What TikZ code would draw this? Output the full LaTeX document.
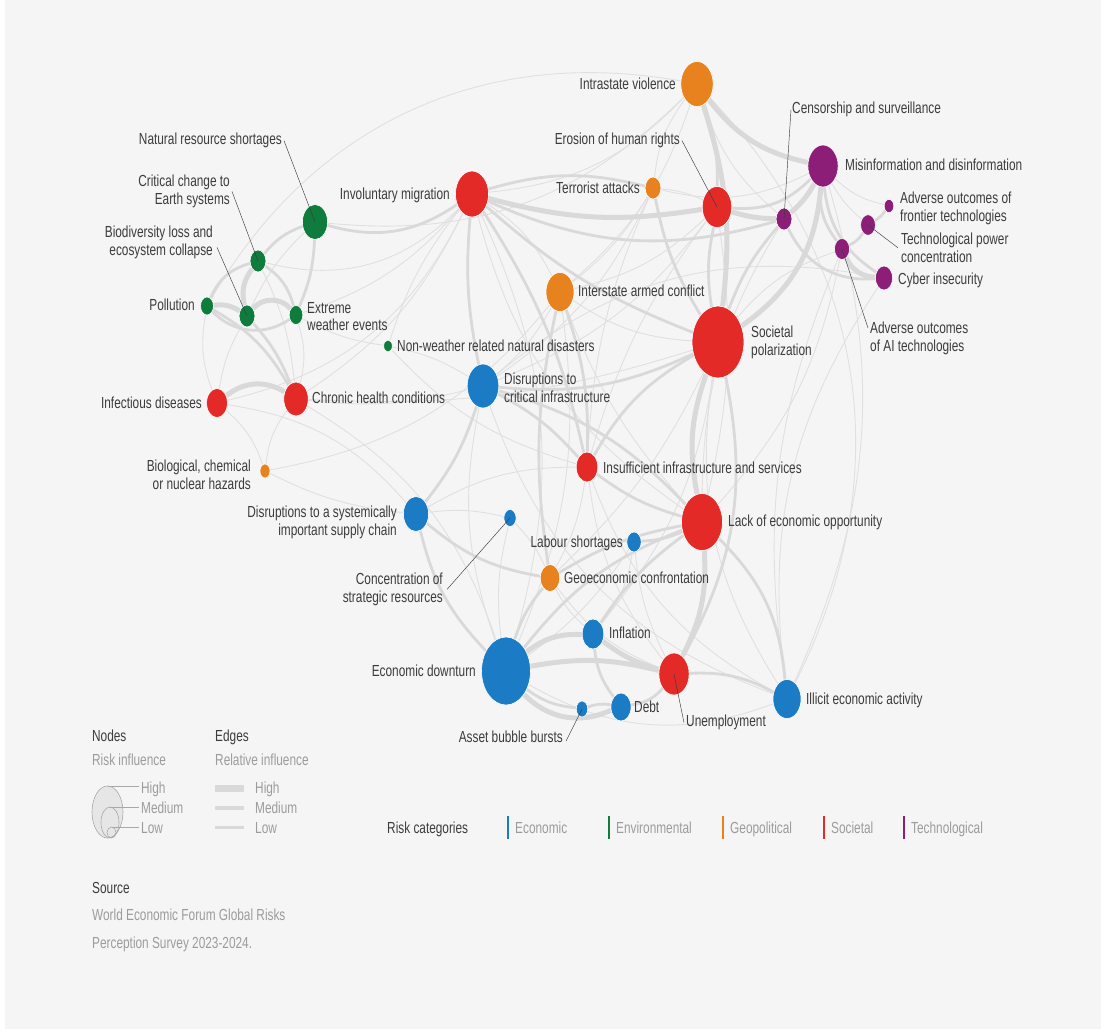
\documentclass[tikz,border=0pt]{standalone}
\usepackage{fontspec}
\setmainfont{Liberation Sans}[FakeStretch=0.74]
\usetikzlibrary{shapes.geometric}
\definecolor{ink}{HTML}{3C3C3C}
\definecolor{muted}{HTML}{9C9C9C}
\definecolor{paper}{HTML}{F5F5F5}
\definecolor{linkgray}{HTML}{D9D9D9}
\definecolor{linkfaint}{HTML}{E0E0E0}
\definecolor{keyfill}{HTML}{E6E6E6}
\definecolor{keyline}{HTML}{A8A8A8}
\definecolor{econ}{HTML}{1B7BC5}
\definecolor{envi}{HTML}{0F7B3C}
\definecolor{geop}{HTML}{E8821F}
\definecolor{soci}{HTML}{E42A27}
\definecolor{tech}{HTML}{8C1E77}
\newcommand{\figfontsize}{\fontsize{16}{17.5}\selectfont}
\pgfdeclarelayer{paperlayer}
\pgfdeclarelayer{linklayer}
\pgfsetlayers{paperlayer,linklayer,main}
\tikzset{
  every picture/.style = {font=\figfontsize, line join=round},
  risk/.style 2 args   = {ellipse, draw=white, line width=0.6pt, fill=#1, inner sep=0pt,
                          minimum width={1.44*#2}, minimum height={2*#2}},
  tag/.style           = {text=ink, inner sep=0pt},
  note/.style          = {text=muted, inner sep=0pt},
  lead/.style          = {draw=ink, line width=0.45pt},
  linkhi/.style        = {draw=linkgray, line width=5pt},
  linkmid/.style       = {draw=linkgray, line width=2.8pt},
  linklo/.style        = {draw=linkfaint, line width=0.9pt},
}

\begin{document}
\begin{tikzpicture}[x=1pt, y=-1pt]
  \useasboundingbox (0,0) rectangle (1101,1029);
  \begin{pgfonlayer}{paperlayer}
    \fill[white] (0,0) rectangle (1101,1029);
    \fill[paper] (5,0) rectangle (1101,1029);
  \end{pgfonlayer}

  % --- risks (ellipse height = 2*ry, width squeezed like the source chart) ---
  % environmental
  \node[risk={envi}{17.5}] (nrs) at (315,222) {};
  \node[risk={envi}{11}]   (ces) at (258,261) {};
  \node[risk={envi}{11}]   (bio) at (247,316) {};
  \node[risk={envi}{9}]    (pol) at (207,306) {};
  \node[risk={envi}{9.5}]  (ext) at (296,315) {};
  \node[risk={envi}{6}]    (nwd) at (388,346) {};
  % societal
  \node[risk={soci}{14.5}] (inf)   at (217,403) {};
  \node[risk={soci}{17}]   (chr)   at (296,399) {};
  \node[risk={soci}{23}]   (mig)   at (472,194) {};
  \node[risk={soci}{20.5}] (hr)    at (717,207) {};
  \node[risk={soci}{36}]   (sp)    at (718,342) {};
  \node[risk={soci}{15}]   (iis)   at (587,467) {};
  \node[risk={soci}{28.5}] (leo)   at (702,522) {};
  \node[risk={soci}{21}]   (unemp) at (674,674) {};
  % geopolitical
  \node[risk={geop}{7}]    (bcn) at (265,471) {};
  \node[risk={geop}{22.5}] (iv)  at (697,84)  {};
  \node[risk={geop}{11}]   (ta)  at (653,188) {};
  \node[risk={geop}{19.5}] (iac) at (560,292) {};
  \node[risk={geop}{13.5}] (geo) at (550,578) {};
  % technological
  \node[risk={tech}{11}]   (cs)  at (784,219) {};
  \node[risk={tech}{21}]   (mis) at (823,166) {};
  \node[risk={tech}{6.7}]  (aof) at (889,206) {};
  \node[risk={tech}{10.3}] (tpc) at (868,225) {};
  \node[risk={tech}{10.5}] (aai) at (842,249) {};
  \node[risk={tech}{12}]   (cyb) at (884,278) {};
  % economic
  \node[risk={econ}{22}]   (dci)  at (483,386) {};
  \node[risk={econ}{17.5}] (dsc)  at (416,514) {};
  \node[risk={econ}{8.5}]  (csr)  at (510,518) {};
  \node[risk={econ}{10}]   (lab)  at (634,542) {};
  \node[risk={econ}{15}]   (infl) at (593,634) {};
  \node[risk={econ}{34}]   (ed)   at (506,671) {};
  \node[risk={econ}{8}]    (abb)  at (582,709) {};
  \node[risk={econ}{14}]   (debt) at (621,707) {};
  \node[risk={econ}{19.5}] (iea)  at (787,699) {};

  % --- links, under the risks ---
  \begin{pgfonlayer}{linklayer}
    \foreach \a/\b/\c in {nrs/bio/-10, ext/chr/15, pol/inf/-15, bio/inf/-10, ces/chr/10,
        chr/bcn/-15, inf/bcn/15, ces/mig/-30, ext/mig/-15, nrs/iv/-25, chr/ed/20,
        chr/sp/-10, inf/dsc/20, ext/nwd/-10, nwd/dci/10, nwd/iis/-15, iv/ta/-15,
        iv/mig/20, iv/cs/-15, iv/iac/15, iv/iea/35, iv/pol/-35, ta/hr/10, ta/iac/10,
        ta/mis/-20, ta/iis/-10, iac/sp/-15, iac/dci/10, iac/ed/15, iac/hr/-15,
        mig/iac/15, mig/leo/-20, mig/chr/15, mig/ed/20, mig/inf/25, sp/iea/-20,
        sp/aai/15, sp/geo/10, sp/infl/15, mis/tpc/-10, mis/aof/-15, cyb/iea/-20,
        aai/iea/-15, aai/leo/15, cyb/dci/-25, ed/csr/10, ed/lab/-10, ed/iea/-25,
        infl/geo/10, dsc/csr/10, dsc/iis/15, geo/csr/-10, geo/iis/-10, lab/infl/15,
        lab/unemp/-10, unemp/iis/15, iea/iis/20, iea/dci/25, bcn/dsc/-10, bcn/iac/-20,
        hr/leo/10, cs/leo/-15, mis/iea/20, hr/iis/-10, ta/dci/15, iac/leo/-10,
        dci/chr/10, dci/ed/-15, geo/unemp/-15, mig/nwd/-10, hr/dci/15}
      \draw[linklo] (\a) to[bend left=\c] (\b);
    \foreach \a/\b/\c in {iv/hr/10, hr/mis/-25, hr/sp/-10, mig/sp/-10, mig/ta/15,
        mig/cs/-20, mig/dci/-8, mig/iis/10, nrs/mig/-25, nrs/ces/-15, ces/ext/20,
        pol/ext/-40, pol/ces/25, pol/chr/15, bio/chr/10, nrs/ext/10, ta/sp/-10,
        iac/geo/-10, iac/iis/10, sp/cs/10, sp/iis/-15, sp/unemp/20, mis/aai/-20,
        mis/cyb/-25, aai/tpc/-15, tpc/aof/-10, cs/cyb/-35, ed/abb/-15, ed/leo/15,
        ed/dsc/15, ed/geo/10, infl/debt/-15, infl/leo/10, debt/unemp/-20, abb/debt/15,
        unemp/iea/15, leo/iea/20, iis/leo/-10, leo/lab/10, leo/geo/-10, leo/dci/-15,
        dsc/dci/-10, dsc/geo/-15, iis/dci/-10, sp/dci/15}
      \draw[linkmid] (\a) to[bend left=\c] (\b);
    \foreach \a/\b/\c in {iv/sp/12, mis/sp/25, hr/cs/-8, mis/cs/10, sp/leo/-15,
        leo/unemp/15, ed/infl/20, ed/debt/-35, ed/unemp/12, infl/unemp/-10, inf/chr/35,
        pol/bio/20, bio/ext/50, ces/bio/-25, mig/hr/-12, aai/cyb/-30, iv/mis/-20}
      \draw[linkhi] (\a) to[bend left=\c] (\b);
  \end{pgfonlayer}

  % --- risk labels ---
  \node[tag, anchor=north east] (iv-t)  at (676,78)  {Intrastate violence};
  \node[tag, anchor=north east] (hr-t)  at (680,133) {Erosion of human rights};
  \node[tag, anchor=north west] (cs-t)  at (792,102) {Censorship and surveillance};
  \node[tag, anchor=north west] (mis-t) at (845,159) {Misinformation and disinformation};
  \node[tag, anchor=north west, align=left] (aof-t) at (900,192) {Adverse outcomes of\\frontier technologies};
  \node[tag, anchor=north west, align=left] (tpc-t) at (901,233) {Technological power\\concentration};
  \node[tag, anchor=north west] (cyb-t) at (898,273) {Cyber insecurity};
  \node[tag, anchor=north west, align=left] (aai-t) at (870,322) {Adverse outcomes\\of AI technologies};
  \node[tag, anchor=north west, align=left] (sp-t)  at (751,326) {Societal\\polarization};
  \node[tag, anchor=north east] (ta-t)  at (640,182) {Terrorist attacks};
  \node[tag, anchor=north west] (iac-t) at (578,285) {Interstate armed conflict};
  \node[tag, anchor=north east] (mig-t) at (450,188) {Involuntary migration};
  \node[tag, anchor=north east] (nrs-t) at (282,133) {Natural resource shortages};
  \node[tag, anchor=north east, align=right] (ces-t) at (230,175) {Critical change to\\Earth systems};
  \node[tag, anchor=north east, align=right] (bio-t) at (213,226) {Biodiversity loss and\\ecosystem collapse};
  \node[tag, anchor=north east] (pol-t) at (195,299) {Pollution};
  \node[tag, anchor=north west, align=left] (ext-t) at (307,302) {Extreme\\weather events};
  \node[tag, anchor=north west] (nwd-t) at (397,340) {Non-weather related natural disasters};
  \node[tag, anchor=north east] (inf-t) at (202,397) {Infectious diseases};
  \node[tag, anchor=north west] (chr-t) at (312,392) {Chronic health conditions};
  \node[tag, anchor=north east, align=right] (bcn-t) at (251,460) {Biological, chemical\\or nuclear hazards};
  \node[tag, anchor=north west, align=left] (dci-t) at (504,373) {Disruptions to\\critical infrastructure};
  \node[tag, anchor=north west] (iis-t) at (603,462) {Insufficient infrastructure and services};
  \node[tag, anchor=north east, align=right] (dsc-t) at (397,506) {Disruptions to a systemically\\important supply chain};
  \node[tag, anchor=north east, align=right] (csr-t) at (443,573) {Concentration of\\strategic resources};
  \node[tag, anchor=north east] (lab-t) at (623,536) {Labour shortages};
  \node[tag, anchor=north west] (leo-t) at (728,515) {Lack of economic opportunity};
  \node[tag, anchor=north west] (geo-t) at (564,572) {Geoeconomic confrontation};
  \node[tag, anchor=north west] (infl-t) at (609,627) {Inflation};
  \node[tag, anchor=north east] (ed-t)  at (476,665) {Economic downturn};
  \node[tag, anchor=north west] (debt-t) at (634,701) {Debt};
  \node[tag, anchor=north east] (abb-t) at (563,731) {Asset bubble bursts};
  \node[tag, anchor=north west] (unemp-t) at (686,715) {Unemployment};
  \node[tag, anchor=north west] (iea-t) at (806,693) {Illicit economic activity};

  % leader lines from label to its dot
  \draw[lead] ([xshift=2pt]hr-t.east) -- (hr.center);
  \draw[lead] ([xshift=-1pt]cs-t.west) -- (cs.center);
  \draw[lead] ([xshift=-3pt]tpc-t.west) -- (tpc.center);
  \draw[lead] ([xshift=-2pt,yshift=-6pt]aai-t.north west) -- (aai.center);
  \draw[lead] ([xshift=2pt]nrs-t.east) -- (nrs.center);
  \draw[lead] ([xshift=2pt]ces-t.east) -- (ces.center);
  \draw[lead] ([xshift=4pt,yshift=-5pt]bio-t.east) -- (bio.center);
  \draw[lead] ([xshift=4pt]csr-t.east) -- (csr.center);
  \draw[lead] ([xshift=3pt,yshift=-4pt]abb-t.east) -- (abb.center);
  \draw[lead] ([xshift=-2pt]unemp-t.west) -- (unemp.center);

  % --- legend: nodes ---
  \node[tag, anchor=north west]  (nodes-h) at (92,730) {Nodes};
  \node[note, anchor=north west] (nodes-s) at (92,754) {Risk influence};
  \draw[keyline, line width=0.6pt, fill=keyfill] (107.5,812) ellipse [x radius=15.5pt, y radius=26pt];
  \draw[keyline, line width=0.6pt] (110,822.5) ellipse [x radius=9pt, y radius=15.5pt];
  \draw[keyline, line width=0.6pt] (111.5,832.5) ellipse [x radius=4.5pt, y radius=5.5pt];
  \coordinate (khi) at (107.5,786);
  \coordinate (kmd) at (110,807);
  \coordinate (klo) at (111.5,827);
  \coordinate (khi-e) at (139,786);
  \coordinate (kmd-e) at (139,807);
  \coordinate (klo-e) at (139,827);
  \node[note, anchor=base west] (khi-t) at (141,793) {High};
  \node[note, anchor=base west] (kmd-t) at (141,813) {Medium};
  \node[note, anchor=base west] (klo-t) at (141,833) {Low};
  \draw[keyline, line width=0.6pt] (khi) -- (khi-e);
  \draw[keyline, line width=0.6pt] (kmd) -- (kmd-e);
  \draw[keyline, line width=0.6pt] (klo) -- (klo-e);

  % --- legend: edges ---
  \node[tag, anchor=north west]  (edges-h) at (215,730) {Edges};
  \node[note, anchor=north west] (edges-s) at (215,754) {Relative influence};
  \draw[linkgray, line width=7pt]   (215,788.5) -- (244,788.5);
  \draw[linkgray, line width=4pt]   (215,808)   -- (244,808);
  \draw[linkgray, line width=2.5pt] (215,827.5) -- (244,827.5);
  \node[note, anchor=base west] (ehi-t) at (255,793) {High};
  \node[note, anchor=base west] (emd-t) at (255,813) {Medium};
  \node[note, anchor=base west] (elo-t) at (255,833) {Low};

  % --- legend: categories ---
  \node[tag, anchor=base west] (cat-h) at (387,833) {Risk categories};
  \foreach \col/\bx/\txt in {econ/508/Economic, envi/609/Environmental, geop/723/Geopolitical,
                             soci/824/Societal, tech/904/Technological} {
    \draw[\col, line width=2.5pt] (\bx,816) -- (\bx,839);
    \node[note, anchor=base west] (cat-\col) at (\bx+7,833) {\txt};
  }

  % --- source ---
  \node[tag, anchor=north west]  (src-h) at (92,882) {Source};
  \node[note, anchor=north west] (src-1) at (92,909) {World Economic Forum Global Risks};
  \node[note, anchor=north west] (src-2) at (92,937) {Perception Survey 2023-2024.};
\end{tikzpicture}
\end{document}
